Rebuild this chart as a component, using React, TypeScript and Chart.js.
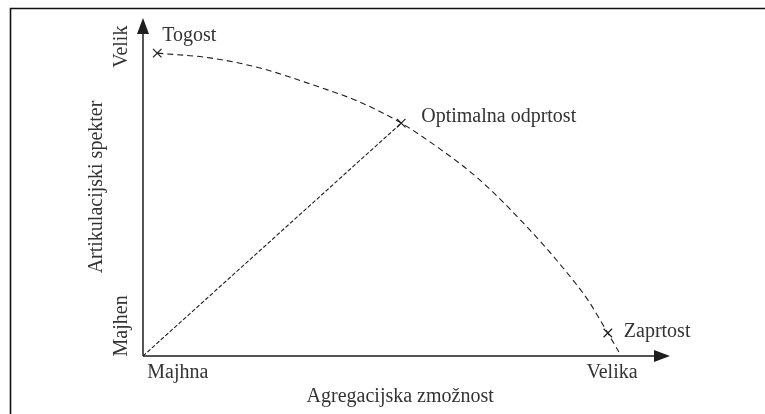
import React, { useEffect, useRef } from 'react';
import { Chart, registerables } from 'chart.js';

Chart.register(...registerables);

// Dashed curve (data units 0..100 on both axes)
const curveX = [2.7, 12.7, 22.2, 31.7, 41.2, 49.0, 56.4, 63.9, 73.4, 79.1, 84.4, 88.2, 90.3];
const curveY = [89.6, 88.2, 85.2, 80.5, 75.1, 68.9, 61.2, 52.1, 37.3, 27.2, 16.6, 6.8, 1.2];

// Diagonal from origin to the optimum
const diagX = [0, 49.0];
const diagY = [0, 68.9];

// Marked points
const markerNames = ['Togost', 'Optimalna odprtost', 'Zaprtost'];
const markerX = [2.7, 49.0, 88.2];
const markerY = [89.6, 68.9, 6.8];

// Axis end labels and titles
const xTickLabels = ['Majhna', 'Velika'];
const xTickValues = [6.6, 89];
const yTickLabels = ['Majhen', 'Velik'];
const yTickValues = [8.9, 91.5];
const xTitle = 'Agregacijska zmožnost';
const yTitle = 'Artikulacijski spekter';

// label offsets in pixels relative to markers (layout only)
const labelOffsets = [
  [5, -12],
  [20, -1],
  [16, 4],
];

const FONT = '20px "Liberation Serif", "DejaVu Serif", serif';
const TEXT = '#333333';
const INK = '#1e1e1e';

const decorPlugin = {
  id: 'decor',
  afterDatasetsDraw(chart: any) {
    const { ctx, scales } = chart;
    const xs = scales.x;
    const ys = scales.y;
    const ox = xs.getPixelForValue(0);
    const oy = ys.getPixelForValue(0);
    const xTip = xs.getPixelForValue(100);
    const yTip = ys.getPixelForValue(100);
    ctx.save();

    // frame
    ctx.strokeStyle = '#111';
    ctx.lineWidth = 1.6;
    ctx.beginPath();
    ctx.moveTo(10, 8.5);
    ctx.lineTo(chart.width, 8.5);
    ctx.moveTo(10.5, 8);
    ctx.lineTo(10.5, chart.height);
    ctx.stroke();

    // axes
    ctx.strokeStyle = INK;
    ctx.fillStyle = INK;
    ctx.lineWidth = 1.5;
    ctx.beginPath();
    ctx.moveTo(ox, oy);
    ctx.lineTo(xTip - 12, oy);
    ctx.moveTo(ox, oy);
    ctx.lineTo(ox, yTip + 12);
    ctx.stroke();
    // arrow heads
    ctx.beginPath();
    ctx.moveTo(xTip, oy);
    ctx.lineTo(xTip - 16, oy - 6);
    ctx.lineTo(xTip - 16, oy + 6);
    ctx.closePath();
    ctx.fill();
    ctx.beginPath();
    ctx.moveTo(ox, yTip);
    ctx.lineTo(ox - 6, yTip + 16);
    ctx.lineTo(ox + 6, yTip + 16);
    ctx.closePath();
    ctx.fill();

    // point labels
    ctx.font = FONT;
    ctx.fillStyle = TEXT;
    ctx.textBaseline = 'alphabetic';
    ctx.textAlign = 'left';
    markerNames.forEach((name, i) => {
      const px = xs.getPixelForValue(markerX[i]) + labelOffsets[i][0];
      const py = ys.getPixelForValue(markerY[i]) + labelOffsets[i][1];
      ctx.fillText(name, px, py);
    });

    // x tick labels
    ctx.textAlign = 'center';
    xTickLabels.forEach((t, i) => {
      ctx.fillText(t, xs.getPixelForValue(xTickValues[i]), oy + 22);
    });
    ctx.fillText(xTitle, xs.getPixelForValue(48.8), oy + 46);

    // y tick labels (rotated)
    yTickLabels.forEach((t, i) => {
      ctx.save();
      ctx.translate(ox - 16, ys.getPixelForValue(yTickValues[i]));
      ctx.rotate(-Math.PI / 2);
      ctx.fillText(t, 0, 0);
      ctx.restore();
    });
    ctx.save();
    ctx.translate(ox - 41, ys.getPixelForValue(50));
    ctx.rotate(-Math.PI / 2);
    ctx.fillText(yTitle, 0, 0);
    ctx.restore();

    ctx.restore();
  },
};

export default function App() {
  const ref = useRef<HTMLCanvasElement | null>(null);
  useEffect(() => {
    document.body.style.margin = '0';
    const canvas = ref.current;
    if (!canvas) return;
    const chart = new Chart(canvas, {
      type: 'scatter',
      data: {
        datasets: [
          {
            label: 'curve',
            data: curveX.map((x, i) => ({ x, y: curveY[i] })),
            showLine: true,
            borderColor: INK,
            borderWidth: 1.1,
            borderDash: [6, 4],
            pointRadius: 0,
            cubicInterpolationMode: 'monotone',
          },
          {
            label: 'diagonal',
            data: diagX.map((x, i) => ({ x, y: diagY[i] })),
            showLine: true,
            borderColor: INK,
            borderWidth: 1.1,
            borderDash: [4, 2],
            pointRadius: 0,
          },
          {
            label: 'markers',
            data: markerX.map((x, i) => ({ x, y: markerY[i] })),
            showLine: false,
            pointStyle: 'crossRot',
            pointRadius: 6,
            borderColor: INK,
            backgroundColor: INK,
            pointBorderWidth: 1.2,
          },
        ],
      } as any,
      options: {
        responsive: false,
        animation: false,
        devicePixelRatio: 1,
        layout: { padding: { left: 143, right: 95, top: 18, bottom: 58 } },
        plugins: { legend: { display: false }, tooltip: { enabled: false } },
        scales: {
          x: { type: 'linear', min: 0, max: 100, display: false },
          y: { type: 'linear', min: 0, max: 100, display: false },
        },
      } as any,
      plugins: [decorPlugin],
    });
    return () => chart.destroy();
  }, []);
  return (
    <canvas
      ref={ref}
      width={765}
      height={414}
      style={{ display: 'block', width: 765, height: 414 }}
    />
  );
}
